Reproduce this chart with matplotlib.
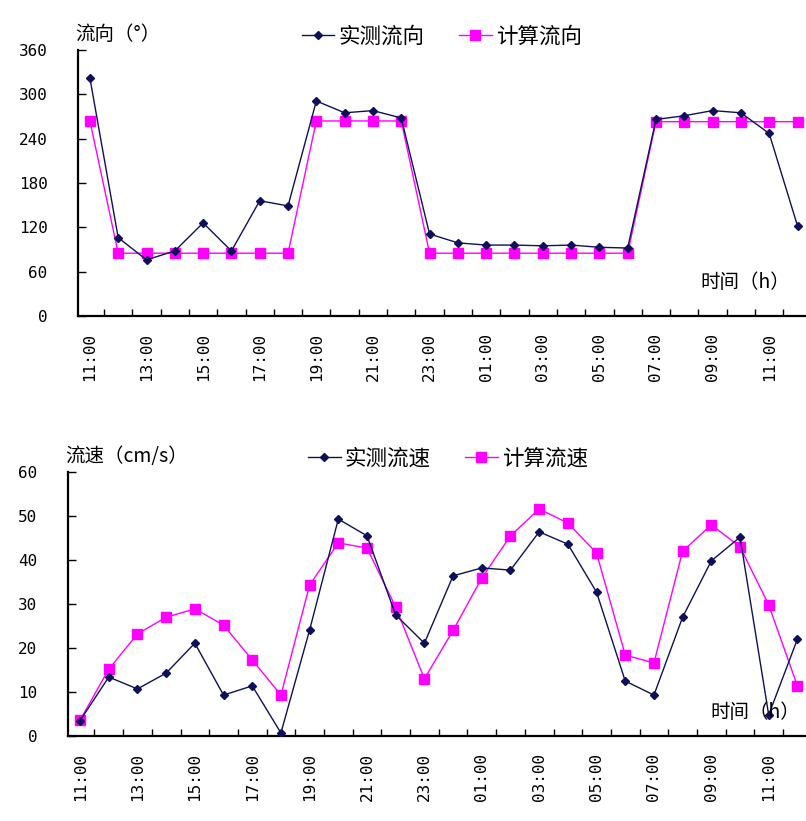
import matplotlib
matplotlib.use("Agg")
import matplotlib.pyplot as plt
import numpy as np

plt.rcParams['font.family'] = ['Noto Sans CJK SC', 'DejaVu Sans']

# time axis: hourly from 11:00 to 12:00 next day, labelled every 2 h
hours = ["11:00", "12:00", "13:00", "14:00", "15:00", "16:00", "17:00", "18:00",
         "19:00", "20:00", "21:00", "22:00", "23:00", "00:00", "01:00", "02:00",
         "03:00", "04:00", "05:00", "06:00", "07:00", "08:00", "09:00", "10:00",
         "11:00", "12:00"]

# flow direction (deg)
dir_measured = [322, 106, 76, 88, 126, 88, 156, 149, 291, 275, 278, 268, 111,
                99, 96, 96, 95, 96, 93, 92, 266, 271, 278, 275, 247, 122]
dir_computed = [264, 85, 85, 85, 85, 85, 85, 85, 264, 264, 264, 264, 85,
                85, 85, 85, 85, 85, 85, 85, 263, 263, 263, 263, 263, 263]

# flow speed (cm/s)
spd_measured = [3.5, 13.4, 10.7, 14.3, 21.1, 9.3, 11.4, 0.7, 24.1, 49.3, 45.5,
                27.5, 21.1, 36.4, 38.2, 37.7, 46.4, 43.6, 32.7, 12.5, 9.3, 27.0,
                39.8, 45.2, 4.8, 22.0]
spd_computed = [3.6, 15.2, 23.2, 27.0, 28.9, 25.2, 17.3, 9.3, 34.3, 43.9, 42.7,
                29.3, 13.0, 24.0, 35.9, 45.5, 51.6, 48.4, 41.6, 18.4, 16.6, 42.0,
                48.0, 43.0, 29.8, 11.4]

NAVY = "#10105a"
MAGENTA = "#ff00ff"
NUM_FONT = ["DejaVu Sans Mono"]

fig = plt.figure(figsize=(8.06, 8.21), dpi=100)
ax1 = fig.add_axes([0.0968, 0.6151, 0.9032, 0.324])
ax2 = fig.add_axes([0.0844, 0.1035, 0.9156, 0.3216])


def draw(ax, meas, comp, ymax, ystep, ylabel, names, leg_x, xlabel_pos):
    x = np.arange(len(hours))
    ax.plot(x, meas, color=NAVY, lw=1.0, marker="D", ms=4.5, label=names[0], zorder=3)
    ax.plot(x, comp, color=MAGENTA, lw=1.0, marker="s", ms=7, label=names[1], zorder=2)
    ax.set_xlim(-0.42, 25.3)
    ax.set_ylim(0, ymax)
    ax.set_yticks(np.arange(0, ymax + 1, ystep))
    ax.set_xticks(x[::2])
    ax.set_xticklabels(hours[::2], rotation=90, fontsize=11.5, family=NUM_FONT)
    for lab in ax.get_yticklabels():
        lab.set_family(NUM_FONT)
    ax.set_xticks(np.arange(0.5, 25, 1), minor=True)
    ax.tick_params(axis="x", which="major", length=0, pad=12)
    ax.tick_params(axis="x", which="minor", direction="in", length=5, width=1)
    ax.tick_params(axis="y", direction="in", length=6, width=1, pad=22, labelsize=11.5)
    for s in ["top", "right"]:
        ax.spines[s].set_visible(False)
    for s in ["left", "bottom"]:
        ax.spines[s].set_linewidth(1.6)
    ax.text(-0.004, 1.02, ylabel, transform=ax.transAxes, fontsize=14,
            ha="left", va="bottom")
    ax.text(xlabel_pos[0], xlabel_pos[1], "时间（h）", transform=ax.transAxes,
            fontsize=14, ha="left", va="center")
    ax.legend(loc="center", bbox_to_anchor=(leg_x, 1.05), ncol=2, frameon=False,
              fontsize=15.5, handlelength=1.5, columnspacing=1.6, handletextpad=0.2)


draw(ax1, dir_measured, dir_computed, 360, 60, "流向（°）",
     ["实测流向", "计算流向"], 0.50, (0.855, 0.125))
draw(ax2, spd_measured, spd_computed, 60, 10, "流速（cm/s）",
     ["实测流速", "计算流速"], 0.515, (0.87, 0.09))

fig.savefig("out.png", dpi=100)
